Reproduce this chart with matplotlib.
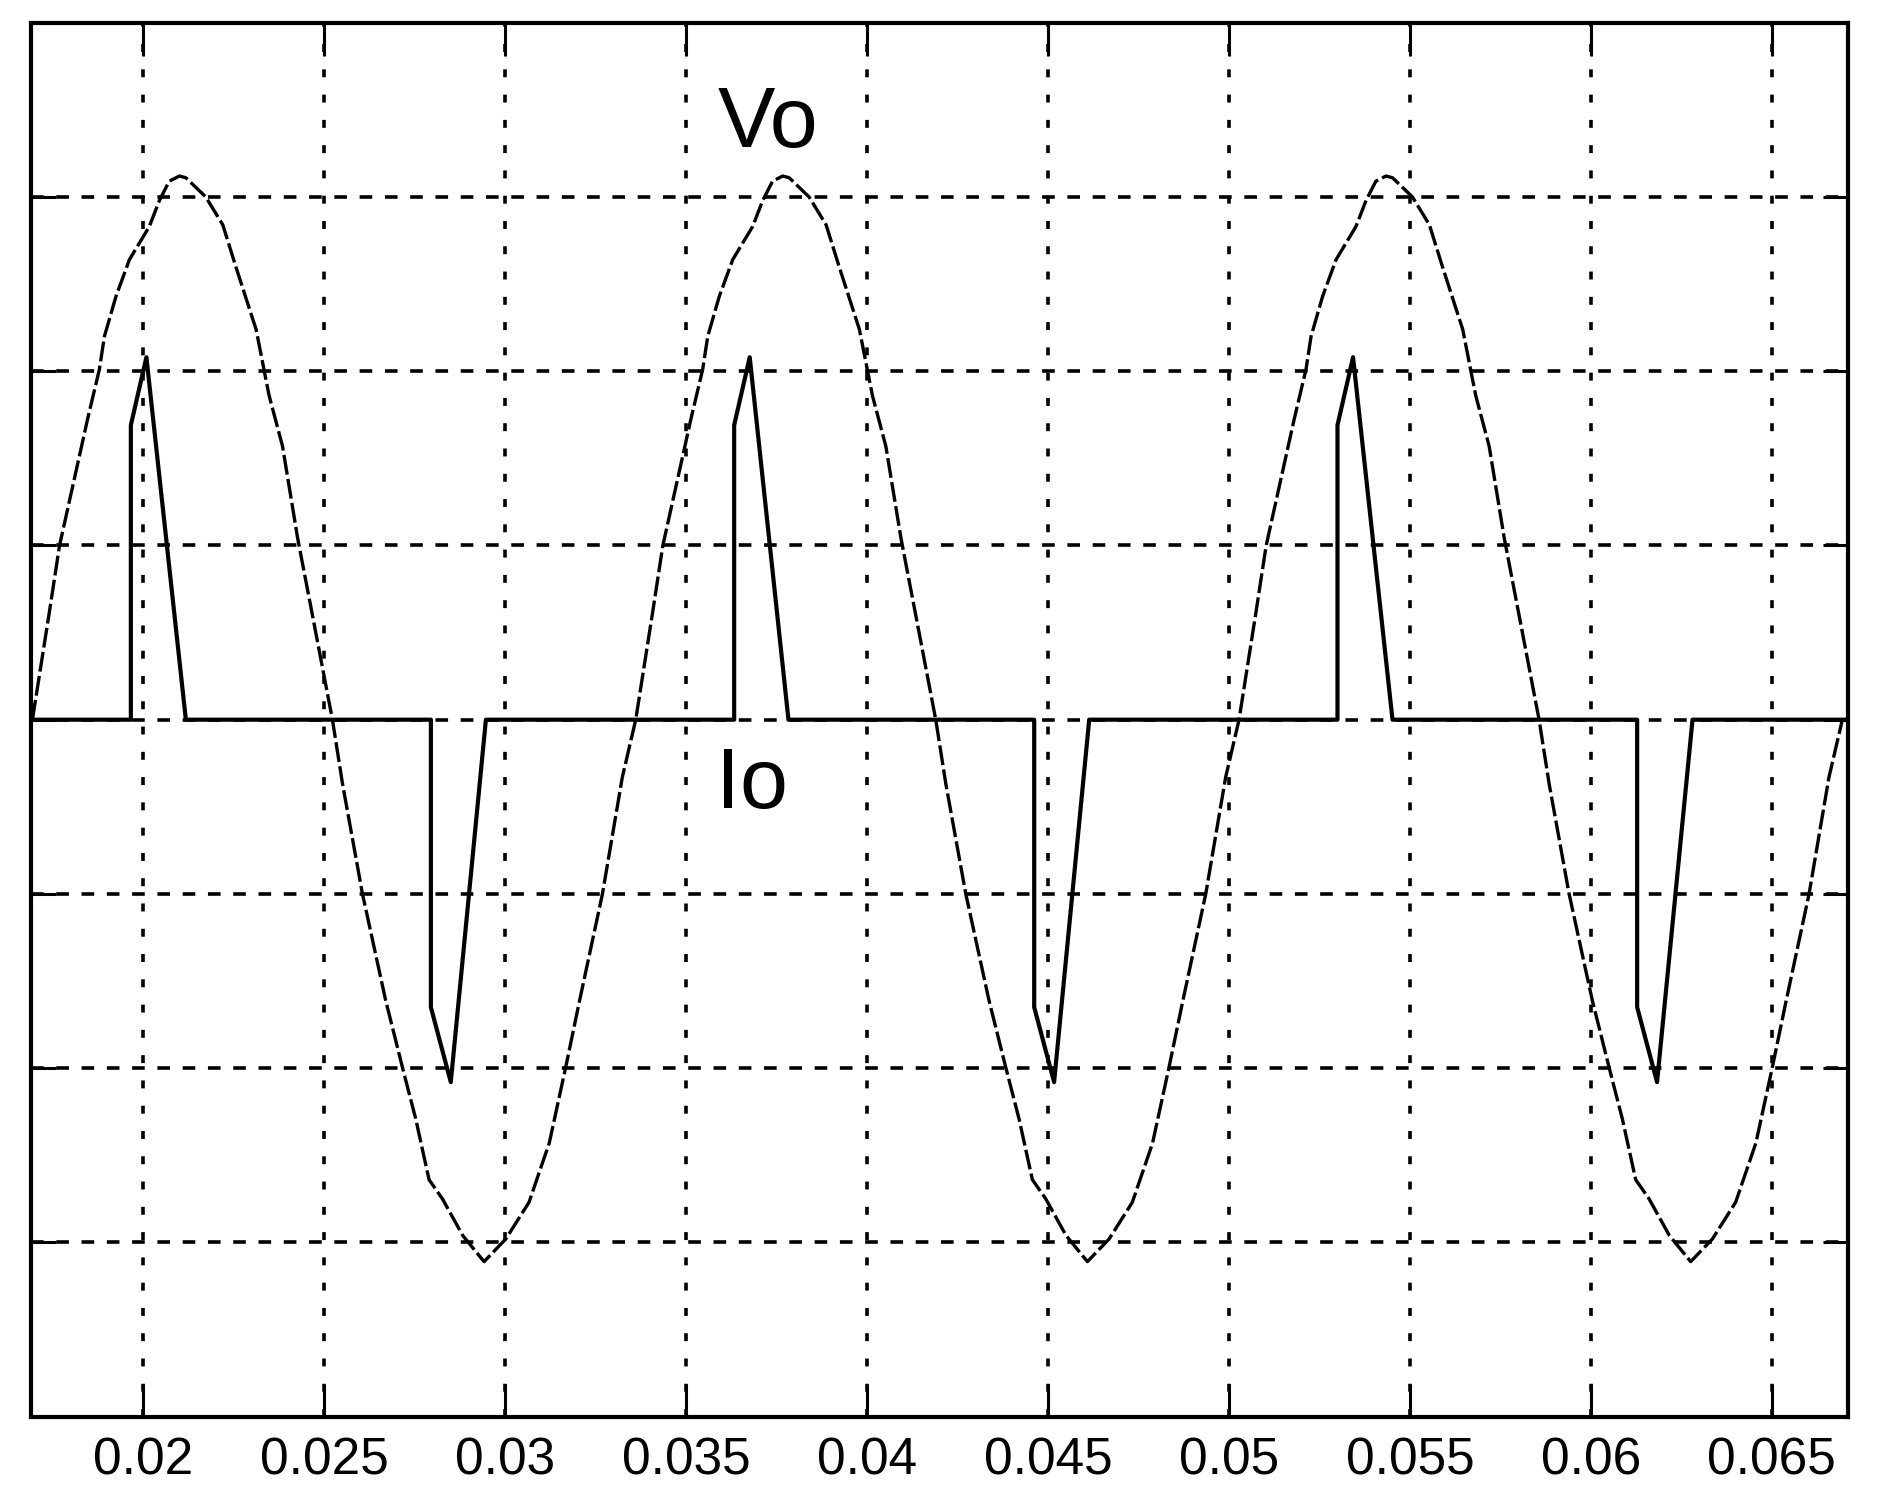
import numpy as np
import matplotlib
matplotlib.use("Agg")
import matplotlib.pyplot as plt

plt.rcParams['font.family'] = ['Liberation Sans', 'DejaVu Sans']

# Vo (three cycles)
vo_t = [0.01694, 0.01741, 0.01769, 0.01847, 0.01879, 0.01893, 0.01925, 0.01962, 0.02017, 0.02045,
        0.02072, 0.02100, 0.02118, 0.02173, 0.02220, 0.02256, 0.02312, 0.02348, 0.02385, 0.02427,
        0.02464, 0.02523, 0.02551, 0.02606, 0.02670, 0.02717, 0.02753, 0.02790, 0.02827, 0.02883,
        0.02942, 0.03002, 0.03066, 0.03122, 0.03168, 0.03204, 0.03269, 0.03324,
        0.03361, 0.03408, 0.03436, 0.03514, 0.03546, 0.03560, 0.03592, 0.03629, 0.03684, 0.03712,
        0.03739, 0.03767, 0.03785, 0.03840, 0.03887, 0.03923, 0.03979, 0.04015, 0.04052, 0.04094,
        0.04131, 0.04190, 0.04218, 0.04273, 0.04337, 0.04384, 0.04420, 0.04457, 0.04494, 0.04550,
        0.04609, 0.04669, 0.04733, 0.04789, 0.04835, 0.04871, 0.04936, 0.04991,
        0.05028, 0.05075, 0.05103, 0.05181, 0.05213, 0.05227, 0.05259, 0.05296, 0.05351, 0.05379,
        0.05406, 0.05434, 0.05452, 0.05507, 0.05554, 0.05590, 0.05646, 0.05682, 0.05719, 0.05761,
        0.05798, 0.05857, 0.05885, 0.05940, 0.06004, 0.06051, 0.06087, 0.06124, 0.06161, 0.06217,
        0.06276, 0.06336, 0.06400, 0.06456, 0.06502, 0.06538, 0.06603, 0.06658, 0.06695]
vo = [0.0, 0.62, 1.0, 1.73, 2.01, 2.20, 2.43, 2.64, 2.83, 2.98,
      3.09, 3.12, 3.11, 3.00, 2.84, 2.60, 2.24, 1.86, 1.57, 1.04,
      0.64, 0.0, -0.37, -1.00, -1.61, -2.00, -2.29, -2.64, -2.75, -2.96,
      -3.11, -2.98, -2.77, -2.43, -1.99, -1.63, -1.00, -0.33,
      0.0, 0.62, 1.0, 1.73, 2.01, 2.20, 2.43, 2.64, 2.83, 2.98,
      3.09, 3.12, 3.11, 3.00, 2.84, 2.60, 2.24, 1.86, 1.57, 1.04,
      0.64, 0.0, -0.37, -1.00, -1.61, -2.00, -2.29, -2.64, -2.75, -2.96,
      -3.11, -2.98, -2.77, -2.43, -1.99, -1.63, -1.00, -0.33,
      0.0, 0.62, 1.0, 1.73, 2.01, 2.20, 2.43, 2.64, 2.83, 2.98,
      3.09, 3.12, 3.11, 3.00, 2.84, 2.60, 2.24, 1.86, 1.57, 1.04,
      0.64, 0.0, -0.37, -1.00, -1.61, -2.00, -2.29, -2.64, -2.75, -2.96,
      -3.11, -2.98, -2.77, -2.43, -1.99, -1.63, -1.00, -0.33, 0.0]

# Io, pulses of current
io_t = [0.0169, 0.01966, 0.01966, 0.02009, 0.02118, 0.02795, 0.02795, 0.02850, 0.02947,
        0.03633, 0.03633, 0.03676, 0.03783, 0.04462, 0.04462, 0.04517, 0.04614,
        0.05300, 0.05300, 0.05343, 0.05452, 0.06128, 0.06128, 0.06183, 0.06281, 0.0671]
io = [0.0, 0.0, 1.69, 2.08, 0.0, 0.0, -1.65, -2.08, 0.0,
      0.0, 1.69, 2.08, 0.0, 0.0, -1.65, -2.08, 0.0,
      0.0, 1.69, 2.08, 0.0, 0.0, -1.65, -2.08, 0.0, 0.0]

xticks = [0.02, 0.025, 0.03, 0.035, 0.04, 0.045, 0.05, 0.055, 0.06, 0.065]
xlabels = ['0.02', '0.025', '0.03', '0.035', '0.04', '0.045', '0.05', '0.055', '0.06', '0.065']
yticks = [-3, -2, -1, 0, 1, 2, 3]

fig = plt.figure(figsize=(18.88, 15.11), dpi=100)
ax = fig.add_axes([0.0164, 0.0624, 0.9623, 0.9226])

ax.plot(vo_t, vo, color='black', lw=2.4, linestyle=(0, (6, 1.3)), zorder=3)
ax.plot(io_t, io, color='black', lw=3.0, zorder=4)

ax.text(0.03727, 3.41, 'Vo', fontsize=62, ha='center', va='center')
ax.text(0.03681, -0.38, 'Io', fontsize=62, ha='center', va='center')

ax.set_xlim(0.0169, 0.0671)
ax.set_ylim(-4, 4)
ax.set_xticks(xticks)
ax.set_xticklabels(xlabels)
ax.set_yticks(yticks)
ax.set_yticklabels([])

ax.xaxis.grid(True, color='black', lw=2.6, linestyle=(0, (2.2, 4.8)))
ax.yaxis.grid(True, color='black', lw=2.6, linestyle=(0, (3.5, 3.5)))
ax.set_axisbelow(True)

ax.tick_params(axis='x', direction='in', top=True, bottom=True, length=24, width=2.2,
               labelsize=37, pad=14)
ax.tick_params(axis='y', direction='in', left=True, right=True, length=18, width=2.2)
for s in ax.spines.values():
    s.set_linewidth(3)

fig.savefig('out.png', dpi=100)
